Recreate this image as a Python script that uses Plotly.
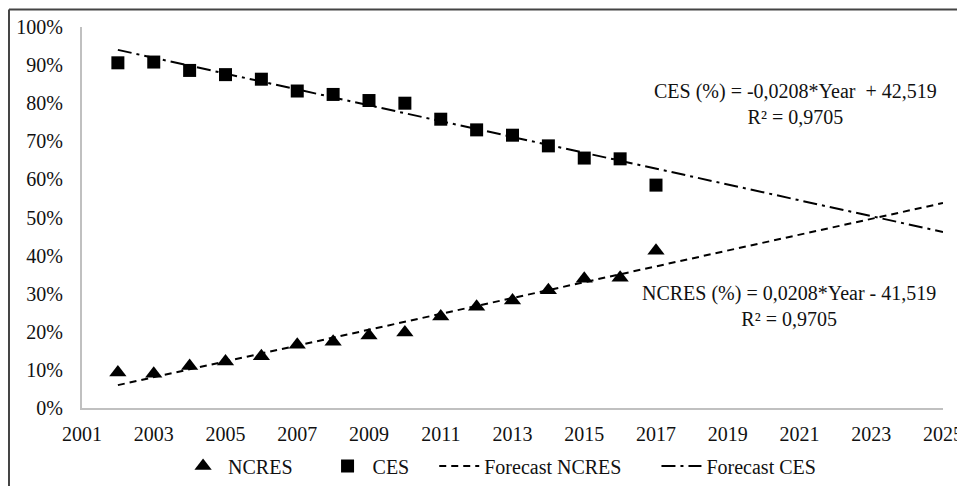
import plotly.graph_objects as go

years = [2002, 2003, 2004, 2005, 2006, 2007, 2008, 2009, 2010, 2011, 2012, 2013, 2014, 2015, 2016, 2017]
ncres = [9.3, 9.0, 11.0, 12.2, 13.6, 16.6, 17.4, 19.0, 19.8, 24.0, 26.6, 28.2, 30.9, 33.9, 34.2, 41.3]
ces = [90.6, 90.8, 88.6, 87.5, 86.3, 83.2, 82.3, 80.7, 80.0, 75.8, 73.0, 71.6, 68.8, 65.6, 65.4, 58.5]

forecast_years = [2002, 2025]
forecast_ncres = [6.0, 53.8]
forecast_ces = [94.0, 46.2]

xticks = list(range(2001, 2026, 2))
yticks = list(range(0, 101, 10))
ytick_labels = [f"{v}%" for v in yticks]

FONT = "Liberation Serif"
PAD = "\u00a0"

fig = go.Figure()
fig.add_trace(go.Scatter(x=years, y=ncres, mode="markers", name="NCRES" + PAD * 5,
                         marker=dict(symbol="triangle-up", size=15, color="black")))
fig.add_trace(go.Scatter(x=years, y=ces, mode="markers", name="CES" + PAD * 4,
                         marker=dict(symbol="square", size=13, color="black")))
fig.add_trace(go.Scatter(x=forecast_years, y=forecast_ncres, mode="lines", name="Forecast NCRES" + PAD * 6,
                         line=dict(color="black", width=2, dash="7px,5px")))
fig.add_trace(go.Scatter(x=forecast_years, y=forecast_ces, mode="lines", name="Forecast CES",
                         line=dict(color="black", width=2, dash="14px,5px,3px,5px")))

fig.add_annotation(x=2020.9, y=79.8, xref="x", yref="y",
                   text="CES (%) = -0,0208*Year  + 42,519<br>R² = 0,9705",
                   showarrow=False, font=dict(family=FONT, size=20, color="#111"), align="center")
fig.add_annotation(x=2020.7, y=26.7, xref="x", yref="y",
                   text="NCRES (%) = 0,0208*Year - 41,519<br>R² = 0,9705",
                   showarrow=False, font=dict(family=FONT, size=20, color="#111"), align="center")

# outer frame (top and left edges visible in the reference)
fig.add_shape(type="line", xref="paper", yref="paper", x0=-0.0848, x1=1.04, y0=1.046, y1=1.046,
              line=dict(color="#444", width=2))
fig.add_shape(type="line", xref="paper", yref="paper", x0=-0.0848, x1=-0.0848, y0=1.046, y1=-0.21,
              line=dict(color="#444", width=2))

fig.update_layout(
    width=965, height=478,
    margin=dict(l=74, r=30, t=19, b=78, autoexpand=False),
    paper_bgcolor="white", plot_bgcolor="white",
    font=dict(family=FONT, size=20, color="#111"),
    showlegend=True,
    legend=dict(orientation="h", x=0.485, xanchor="center", y=-0.152, yanchor="middle",
                font=dict(family=FONT, size=20, color="#111"), itemwidth=40,
                traceorder="normal"),
)
fig.update_xaxes(range=[2001, 2025], tickmode="array", tickvals=xticks,
                 ticktext=[str(v) for v in xticks], showgrid=False, zeroline=False,
                 showline=True, linecolor="#c0c0c0", linewidth=2, ticks="",
                 tickfont=dict(family=FONT, size=20, color="#111"),
                 ticklabelstandoff=7, automargin=False)
fig.update_yaxes(range=[0, 100], tickmode="array", tickvals=yticks, ticktext=ytick_labels,
                 showgrid=False, zeroline=False,
                 showline=True, linecolor="#c0c0c0", linewidth=2, ticks="",
                 tickfont=dict(family=FONT, size=20, color="#111"),
                 ticklabelstandoff=13, automargin=False)

fig.write_html("out.html")
